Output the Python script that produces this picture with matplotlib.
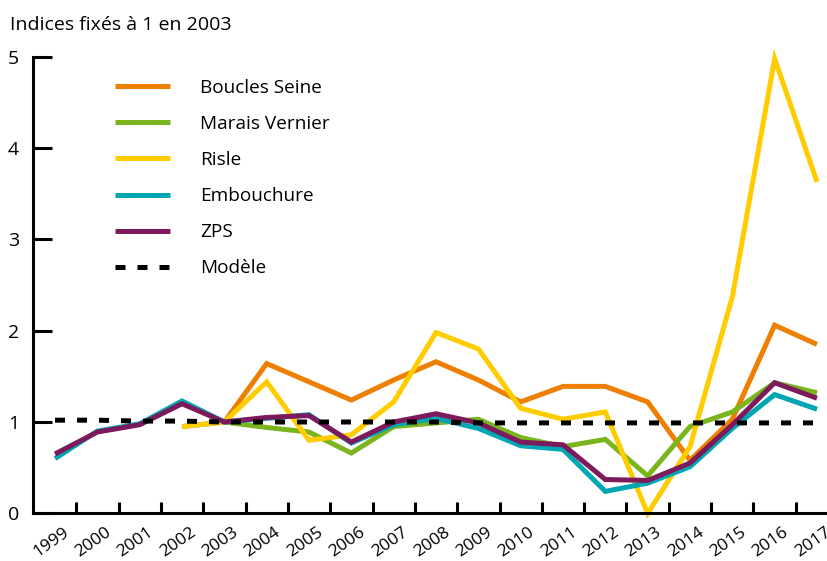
import numpy as np
import matplotlib
matplotlib.use("Agg")
import matplotlib.pyplot as plt
from matplotlib.transforms import ScaledTranslation

plt.rcParams['font.family'] = ['Open Sans', 'DejaVu Sans']

nan = np.nan
years = ['1999', '2000', '2001', '2002', '2003', '2004', '2005', '2006', '2007', '2008',
         '2009', '2010', '2011', '2012', '2013', '2014', '2015', '2016', '2017']

# indices (1 = 2003)
boucles_seine = [nan, nan, nan, nan, 1.0, 1.64, 1.44, 1.24, 1.46, 1.66,
                 1.46, 1.22, 1.39, 1.39, 1.22, 0.58, 1.03, 2.06, 1.85]
marais_vernier = [nan, nan, nan, 0.95, 1.0, 0.94, 0.89, 0.66, 0.95, 0.99,
                  1.03, 0.83, 0.73, 0.81, 0.41, 0.95, 1.11, 1.43, 1.32]
risle = [nan, nan, nan, 0.95, 1.0, 1.44, 0.80, 0.86, 1.22, 1.98,
         1.80, 1.15, 1.03, 1.11, 0.0, 0.73, 2.37, 4.98, 3.63]
embouchure = [0.60, 0.90, 0.98, 1.23, 1.0, 1.04, 1.08, 0.77, 0.97, 1.04,
              0.93, 0.74, 0.70, 0.24, 0.33, 0.51, 0.93, 1.30, 1.14]
zps = [0.65, 0.89, 0.97, 1.20, 1.0, 1.05, 1.07, 0.78, 1.0, 1.09,
       0.99, 0.78, 0.75, 0.37, 0.36, 0.55, 0.97, 1.43, 1.26]
modele = [1.02, 1.02, 1.01, 1.01, 1.0, 1.0, 1.0, 1.0, 1.0, 1.0,
          0.99, 0.99, 0.99, 0.99, 0.99, 0.99, 0.99, 0.99, 0.99]

series = [
    ('Boucles Seine', boucles_seine, '#EE7F00'),
    ('Marais Vernier', marais_vernier, '#7AB51D'),
    ('Risle', risle, '#FFCC00'),
    ('Embouchure', embouchure, '#00A6B4'),
    ('ZPS', zps, '#7D1A5B'),
]

fig = plt.figure(figsize=(8.28, 5.61), dpi=100)
ax = fig.add_axes([33 / 828, (561 - 513.3) / 561, 1 - 33 / 828, (513.3 - 56.8) / 561])

x = np.arange(len(years))
for name, vals, col in series:
    ax.plot(x, vals, color=col, lw=3.6, label=name, solid_joinstyle='miter',
            solid_capstyle='butt', clip_on=False)
ax.plot(x, modele, color='black', lw=3.6, dashes=(2.0, 2.4), label='Modèle', clip_on=False)

ax.set_xlim(-0.52, 18.26)
ax.set_ylim(0, 5)

for s in ['top', 'right']:
    ax.spines[s].set_visible(False)
ax.spines['left'].set_linewidth(2.2)
ax.spines['bottom'].set_linewidth(2.2)

ax.set_yticks([0, 1, 2, 3, 4, 5])
ax.tick_params(axis='y', direction='in', length=14, width=2.2, pad=10, labelsize=14)
ax.set_xticks(x)
ax.set_xticklabels(years, rotation=35, ha='center')
ax.set_xticks(x[:-1] + 0.5, minor=True)
ax.tick_params(axis='x', which='major', length=0, pad=8, labelsize=12.5)
ax.tick_params(axis='x', which='minor', direction='in', length=8, width=2.2)
shift = ScaledTranslation(-4 / 100, 0, fig.dpi_scale_trans)
for lab in ax.get_xticklabels():
    lab.set_transform(lab.get_transform() + shift)

fig.text(10 / 828, 1 - 30 / 561, 'Indices fixés à 1 en 2003', fontsize=14, va='baseline')

ax.legend(loc='upper left', bbox_to_anchor=(115 / 828, 1 - 79 / 561),
          bbox_transform=fig.transFigure, frameon=False, fontsize=13.7,
          handlelength=2.9, handletextpad=1.58, labelspacing=0.95,
          borderpad=0, borderaxespad=0)

fig.savefig('out.png', dpi=100)
